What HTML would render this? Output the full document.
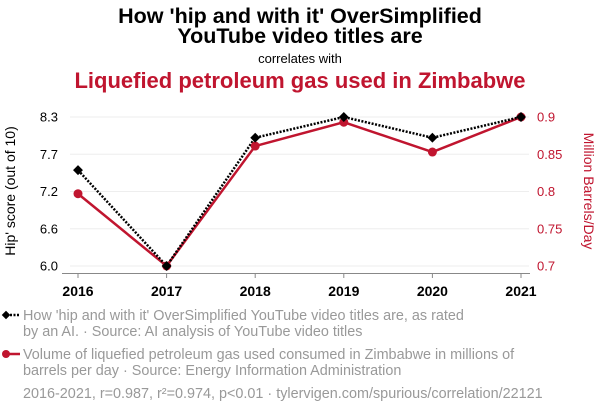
<!DOCTYPE html>
<html><head><meta charset="utf-8"><style>
body{margin:0;width:600px;height:414px;background:#fff;font-family:"Liberation Sans",sans-serif;overflow:hidden}
</style></head><body>
<svg width="600" height="414" xmlns="http://www.w3.org/2000/svg">
<text x="300" y="23" text-anchor="middle" font-size="21.5" font-weight="bold">How 'hip and with it' OverSimplified</text>
<text x="300" y="43" text-anchor="middle" font-size="21.5" font-weight="bold">YouTube video titles are</text>
<text x="300" y="63" text-anchor="middle" font-size="13">correlates with</text>
<text x="300" y="88" text-anchor="middle" font-size="22" font-weight="bold" fill="#c0152f">Liquefied petroleum gas used in Zimbabwe</text>
<g id="grid"></g>
<g id="axes"></g>
<g id="marks"></g>
<text transform="translate(15,191) rotate(-90)" text-anchor="middle" font-size="14">Hip' score (out of 10)</text>
<text transform="translate(584,191) rotate(90)" text-anchor="middle" font-size="14" fill="#c0152f">Million Barrels/Day</text>
<g>
<line x1="3" y1="315" x2="20" y2="315" stroke="#000" stroke-width="2.5" stroke-dasharray="2,1.5"/>
<rect x="3" y="312" width="6" height="6" transform="rotate(45 6 315)" fill="#000"/>
<text x="23" y="320" font-size="14.4" fill="#999">How 'hip and with it' OverSimplified YouTube video titles are, as rated</text>
<text x="23" y="336" font-size="14.4" fill="#999">by an AI. · Source: AI analysis of YouTube video titles</text>
</g>
<g>
<line x1="3" y1="354" x2="20" y2="354" stroke="#c0152f" stroke-width="2.5"/>
<circle cx="6" cy="354" r="4" fill="#c0152f"/>
<text x="23" y="359" font-size="14.4" fill="#999">Volume of liquefied petroleum gas used consumed in Zimbabwe in millions of</text>
<text x="23" y="375" font-size="14.4" fill="#999">barrels per day · Source: Energy Information Administration</text>
</g>
<text x="23" y="398" font-size="14.4" fill="#999">2016-2021, r=0.987, r²=0.974, p&lt;0.01 · tylervigen.com/spurious/correlation/22121</text>
</svg>
<script>
const years=[2016,2017,2018,2019,2020,2021];
const hipValues=[7.48,6.0,7.98,8.3,7.98,8.3];
const lpgValues=[0.797,0.7,0.861,0.893,0.853,0.9];
const leftTicks=["6.0","6.6","7.2","7.7","8.3"];
const rightTicks=["0.7","0.75","0.8","0.85","0.9"];
const NS="http://www.w3.org/2000/svg";
const X0=78,X1=521,YT=117,YB=266;
const x=y=>X0+(y-years[0])/(years[years.length-1]-years[0])*(X1-X0);
const yL=v=>YB-(v-6.0)/(8.3-6.0)*(YB-YT);
const yR=v=>YB-(v-0.7)/(0.9-0.7)*(YB-YT);
function mk(t,a,p){const e=document.createElementNS(NS,t);for(const k in a)e.setAttribute(k,a[k]);p.appendChild(e);return e;}
const grid=document.getElementById('grid'),axes=document.getElementById('axes'),marks=document.getElementById('marks');
leftTicks.forEach((t,i)=>{const yy=YB-i*(YB-YT)/(leftTicks.length-1);
 const g=mk('line',{x1:70,x2:529,y1:yy,y2:yy,stroke:'#eee','stroke-width':1},grid);
 
 
 const tx=mk('text',{x:58,y:yy+4.5,'text-anchor':'end','font-size':13},axes);tx.textContent=t;
 
 });
rightTicks.forEach((t,i)=>{const yy=YB-i*(YB-YT)/(rightTicks.length-1);
 const tx=mk('text',{x:537,y:yy+4.5,'font-size':13,fill:'#c0152f'},axes);tx.textContent=t;
 
 });
const ax=mk('line',{x1:62,x2:530,y1:273.5,y2:273.5,stroke:'#888','stroke-width':1},axes);


years.forEach(yr=>{mk('line',{x1:x(yr),x2:x(yr),y1:273.5,y2:278,stroke:'#888'},axes);
 const tx=mk('text',{x:x(yr),y:296,'text-anchor':'middle','font-size':14,'font-weight':'bold'},axes);tx.textContent=yr;
 
 });
const rl=mk('polyline',{points:years.map((yr,i)=>x(yr)+','+yR(lpgValues[i])).join(' '),fill:'none',stroke:'#c0152f','stroke-width':2.5},marks);


const bl=mk('polyline',{points:years.map((yr,i)=>x(yr)+','+yL(hipValues[i])).join(' '),fill:'none',stroke:'#000','stroke-width':2.5,'stroke-dasharray':'2,1.5'},marks);


years.forEach((yr,i)=>{const c=mk('circle',{cx:x(yr),cy:yR(lpgValues[i]),r:4.5,fill:'#c0152f'},marks);
 
 
 const cx=x(yr),cy=yL(hipValues[i]);
 const d=mk('rect',{x:cx-3.5,y:cy-3.5,width:7,height:7,fill:'#000',transform:`rotate(45 ${cx} ${cy})`},marks);
 
 });
</script>
</body></html>
